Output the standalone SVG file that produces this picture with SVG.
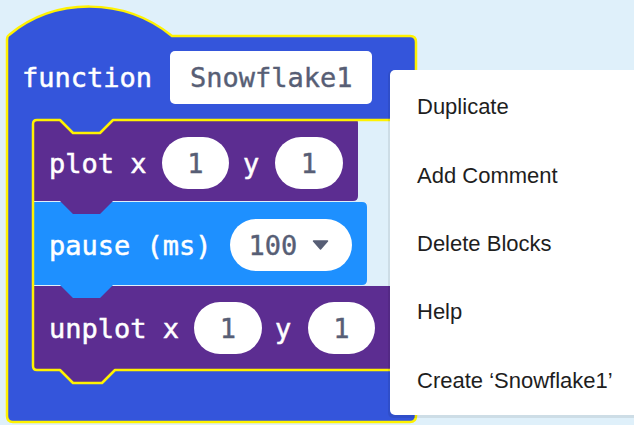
<svg xmlns="http://www.w3.org/2000/svg" width="634" height="425" viewBox="0 0 634 425">
<style>
.lbl{font-family:"DejaVu Sans Mono","Liberation Mono",monospace;font-size:27px;fill:#ffffff;stroke:#ffffff;stroke-width:0.5}
.fld{font-family:"DejaVu Sans Mono","Liberation Mono",monospace;font-size:27px;fill:#575e75;stroke:#575e75;stroke-width:0.4}
.oval{fill:#ffffff}
.menu{font-family:"Liberation Sans",Arial,sans-serif;font-size:22px;fill:#1e1e1e}
</style>
<rect x="0" y="0" width="634" height="425" fill="#dff0fa"/>

<g id="unplot">
<path d="M34,286 L395,286 L395,370 L115,370 L102,383 L73,383 L60,370 L34,370 Z" fill="#5c2d91"/>
<text class="lbl" x="49" y="338">unplot x</text>
<rect class="oval" x="194" y="302" width="68" height="52" rx="26"/>
<text class="fld" x="228" y="338" text-anchor="middle">1</text>
<text class="lbl" x="275" y="338">y</text>
<rect class="oval" x="308" y="302" width="67" height="52" rx="26"/>
<text class="fld" x="341.5" y="338" text-anchor="middle">1</text>
</g>

<g id="pause">
<path d="M34,202 L362,202 Q367,202 367,207 L367,280 Q367,285 362,285 L113,285 L100,298 L73,298 L60,285 L34,285 Z" fill="#1e90ff"/>
<text class="lbl" x="49" y="255">pause (ms)</text>
<rect class="oval" x="230" y="219" width="122" height="52" rx="26"/>
<text class="fld" x="248.5" y="255">100</text>
<path d="M313.5,241 L327.5,241 L320.5,249 Z" fill="#575e75" stroke="#575e75" stroke-width="1.5" stroke-linejoin="round"/>
</g>

<g id="plot">
<path d="M34,118 L353,118 Q358,118 358,123 L358,196 Q358,201 353,201 L113,201 L100,214 L73,214 L60,201 L34,201 Z" fill="#5c2d91"/>
<text class="lbl" x="49" y="173">plot x</text>
<rect class="oval" x="162" y="137" width="67" height="52" rx="26"/>
<text class="fld" x="195.5" y="173" text-anchor="middle">1</text>
<text class="lbl" x="243" y="173">y</text>
<rect class="oval" x="275" y="137" width="68" height="52" rx="26"/>
<text class="fld" x="309" y="173" text-anchor="middle">1</text>
</g>

<g id="function">
<path d="M7,40 Q7,36 9,35 C55,-3 124,-3 172,36 L410,36 Q416,36 416,42 L416,120 L113,120 L100,133 L73,133 L60,120 L37,120 Q33,120 33,124 L33,366 Q33,370 37,370 L60,370 L73,383 L102,383 L115,370 L416,370 L416,416 Q416,422 410,422 L13,422 Q7,422 7,416 Z" fill="#3455db" stroke="#fff200" stroke-width="2.5" stroke-linejoin="round"/>
<text class="lbl" x="22" y="87">function</text>
<rect x="170" y="51" width="202" height="53" rx="5" fill="#ffffff"/>
<text class="fld" x="190" y="87">Snowflake1</text>
</g>

<g id="connectors"></g>

<g id="menu">
<rect x="388" y="70" width="260" height="348" rx="5" fill="#000000" opacity="0.08"/>
<rect x="390" y="70" width="260" height="345" rx="5" fill="#ffffff"/>
<text class="menu" x="417" y="114">Duplicate</text>
<text class="menu" x="417" y="183">Add Comment</text>
<text class="menu" x="417" y="251">Delete Blocks</text>
<text class="menu" x="417" y="319">Help</text>
<text class="menu" x="417" y="388">Create ‘Snowflake1’</text>
</g>
</svg>
